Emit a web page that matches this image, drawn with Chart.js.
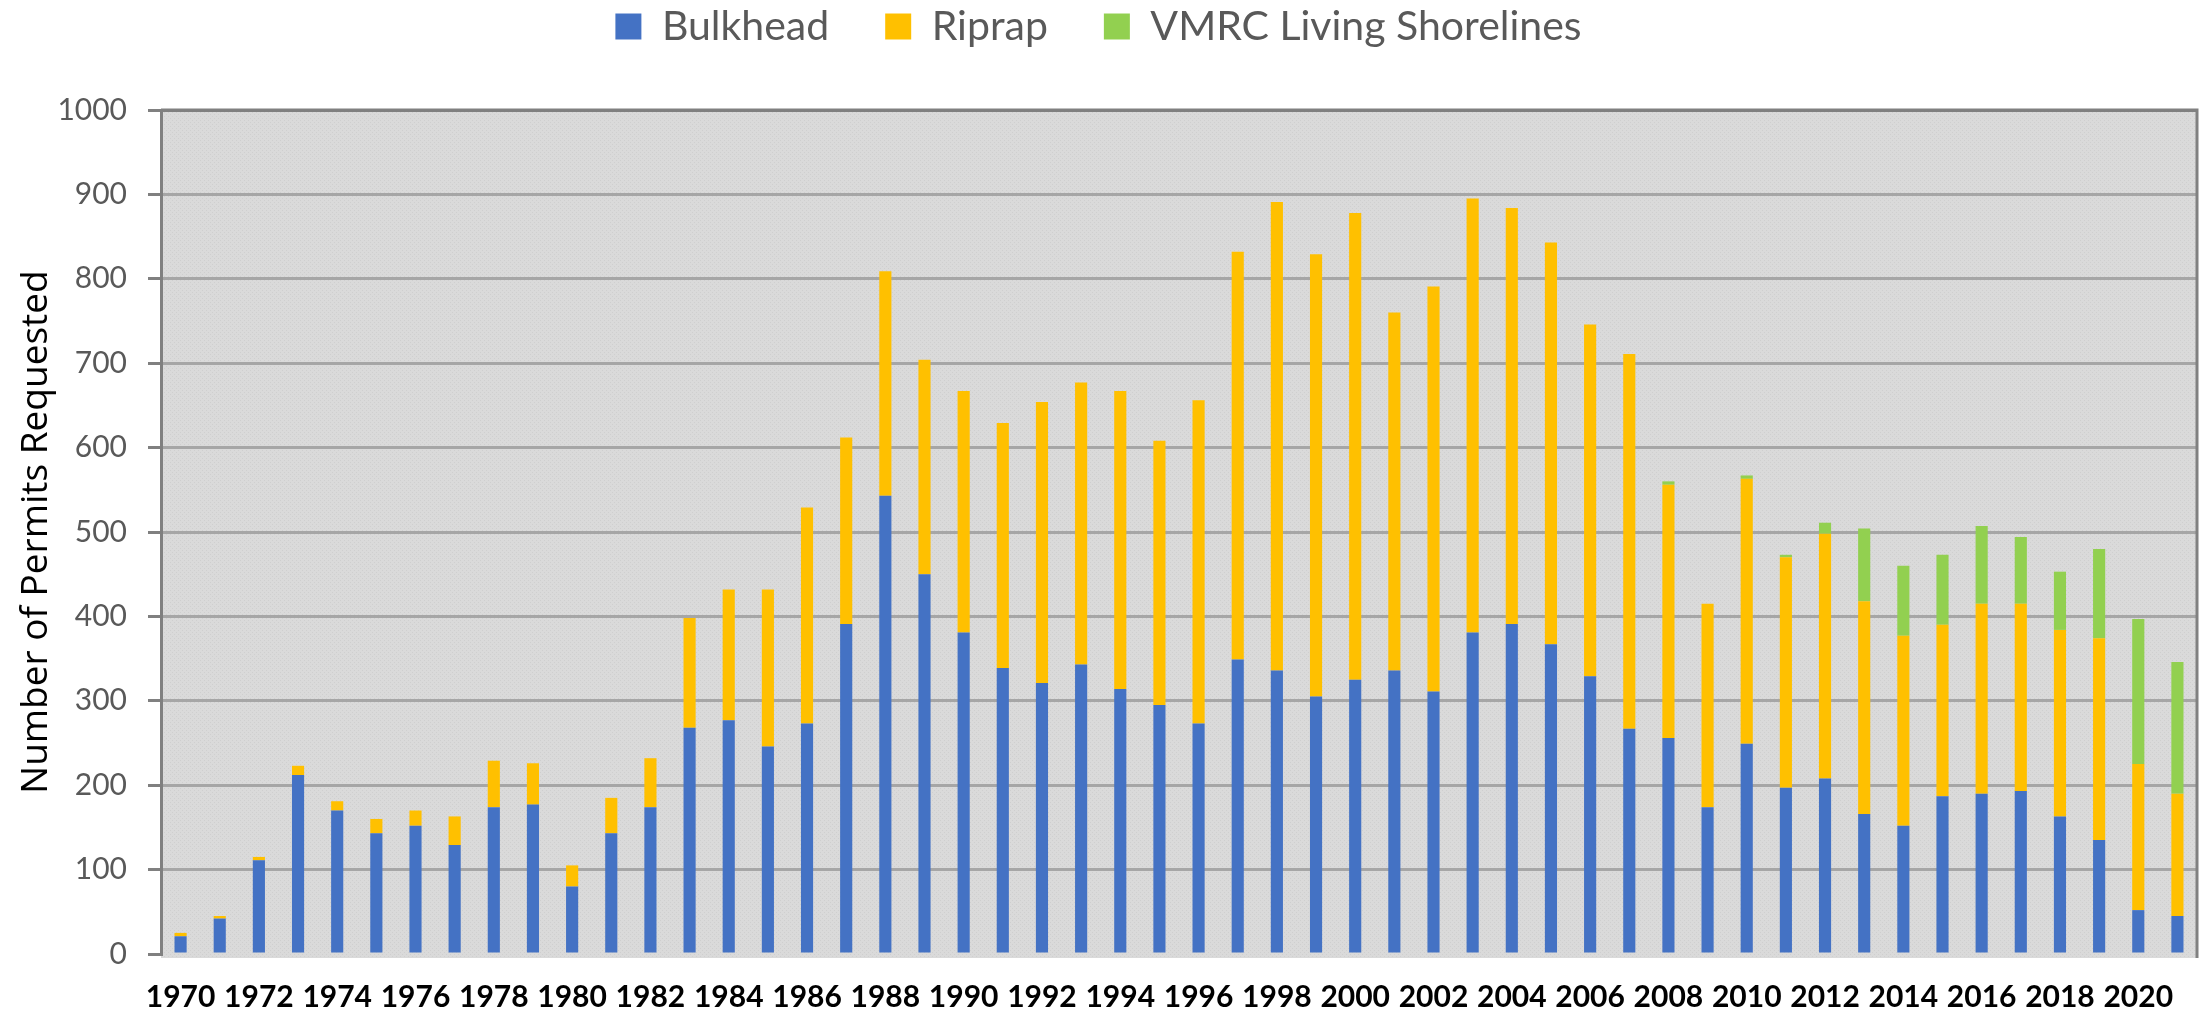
<!DOCTYPE html>
<html>
<head>
<meta charset="utf-8">
<script src="https://cdn.jsdelivr.net/npm/chart.js@4.4.1/dist/chart.umd.min.js"></script>
<style>
  html, body { margin: 0; padding: 0; background: #ffffff; }
  #wrap { width: 2208px; height: 1013px; position: relative; }
</style>
</head>
<body>
<div id="wrap"><canvas id="c" width="2208" height="1013"></canvas></div>
<script>
const years = [
  '1970','1971','1972','1973','1974','1975','1976','1977','1978','1979',
  '1980','1981','1982','1983','1984','1985','1986','1987','1988','1989',
  '1990','1991','1992','1993','1994','1995','1996','1997','1998','1999',
  '2000','2001','2002','2003','2004','2005','2006','2007','2008','2009',
  '2010','2011','2012','2013','2014','2015','2016','2017','2018','2019',
  '2020','2021'
];
const bulkhead = [
  21, 42, 111, 212, 170, 143, 152, 129, 174, 177,
  80, 143, 174, 268, 277, 246, 273, 391, 543, 450,
  381, 339, 321, 343, 314, 295, 273, 349, 336, 305,
  325, 336, 311, 381, 391, 367, 329, 267, 256, 174,
  249, 197, 208, 166, 152, 187, 190, 193, 163, 135,
  52, 45
];
const riprap = [
  4, 3, 4, 11, 11, 17, 18, 34, 55, 49,
  25, 42, 58, 130, 155, 186, 256, 221, 266, 254,
  286, 290, 333, 334, 353, 313, 383, 483, 555, 524,
  553, 424, 480, 514, 493, 476, 417, 444, 300, 241,
  314, 273, 290, 252, 225, 203, 225, 222, 221, 239,
  173, 145
];
const livingShorelines = [
  0, 0, 0, 0, 0, 0, 0, 0, 0, 0,
  0, 0, 0, 0, 0, 0, 0, 0, 0, 0,
  0, 0, 0, 0, 0, 0, 0, 0, 0, 0,
  0, 0, 0, 0, 0, 0, 0, 0, 4, 0,
  4, 3, 13, 86, 83, 83, 92, 79, 69, 106,
  172, 156
];
const seriesNames = ['Bulkhead', 'Riprap', 'VMRC Living Shorelines'];
const seriesColors = ['#4472C4', '#FFC000', '#92D050'];
const yTicks = { min: 0, max: 1000, step: 100 };
const yTitle = 'Number of Permits Requested';

// background pattern for plot area
function makePattern(ctx) {
  const p = document.createElement('canvas');
  p.width = 4; p.height = 4;
  const pc = p.getContext('2d');
  pc.fillStyle = '#dadada';
  pc.fillRect(0, 0, 4, 4);
  pc.fillStyle = '#cfcfcf';
  pc.fillRect(0, 0, 1, 1);
  pc.fillRect(2, 2, 1, 1);
  return ctx.createPattern(p, 'repeat');
}

const plotFrame = {
  id: 'plotFrame',
  beforeDraw(chart) {
    const { ctx, chartArea: a } = chart;
    ctx.save();
    ctx.fillStyle = makePattern(ctx);
    ctx.fillRect(a.left, a.top, a.right - a.left, a.bottom - a.top + 4);
    ctx.restore();
  },
  afterDraw(chart) {
    const { ctx, chartArea: a } = chart;
    ctx.save();
    ctx.strokeStyle = '#808080';
    ctx.lineWidth = 3;
    ctx.beginPath();
    ctx.moveTo(a.left, a.top);
    ctx.lineTo(a.right, a.top);
    ctx.lineTo(a.right, a.bottom + 4);
    ctx.stroke();
    ctx.restore();
  }
};

const legendHeight = {
  id: 'legendHeight',
  beforeInit(chart) {
    const orig = chart.legend.fit;
    chart.legend.fit = function () {
      orig.bind(chart.legend)();
      this.height = 160;
    };
  }
};

const datasets = [bulkhead, riprap, livingShorelines].map((d, i) => ({
  label: seriesNames[i],
  data: d,
  backgroundColor: seriesColors[i],
  borderWidth: 0,
  barPercentage: 0.31,
  categoryPercentage: 1.0,
  stack: 'permits'
}));

new Chart(document.getElementById('c'), {
  type: 'bar',
  data: { labels: years, datasets },
  plugins: [plotFrame, legendHeight],
  options: {
    responsive: false,
    animation: false,
    layout: { padding: { top: -50, left: 0, right: 11, bottom: 0 } },
    plugins: {
      legend: {
        position: 'top',
        labels: {
          font: { family: 'Lato', size: 41 },
          color: '#595959',
          boxWidth: 26,
          boxHeight: 26,
          padding: 56
        }
      },
      tooltip: { enabled: false }
    },
    scales: {
      x: {
        stacked: true,
        grid: { display: false, drawTicks: false },
        border: { display: false },
        ticks: {
          autoSkip: false,
          maxRotation: 0,
          minRotation: 0,
          padding: 25,
          color: '#000000',
          font: { family: 'Lato', size: 30, weight: 'bold' },
          callback: (v, i) => (i % 2 === 0 ? years[i] : '')
        },
        afterFit(scale) { scale.height = 59; }
      },
      y: {
        stacked: true,
        min: yTicks.min,
        max: yTicks.max,
        ticks: {
          stepSize: yTicks.step,
          padding: 21,
          color: '#595959',
          font: { family: 'Lato', size: 30 },
          callback: (v) => String(v)
        },
        grid: {
          color: (c) => (c.tick && c.tick.value === 0 ? 'rgba(0,0,0,0)' : (c.tick && c.tick.value === 1000 ? '#808080' : '#a6a6a6')),
          lineWidth: 3,
          tickLength: 13,
          tickColor: '#808080',
          tickWidth: 3
        },
        border: { display: true, color: '#808080', width: 3 },
        title: {
          display: true,
          text: yTitle,
          color: '#000000',
          font: { family: 'Open Sans', size: 37 },
          padding: { top: 14, bottom: 0 }
        },
        afterFit(scale) { scale.width = 161; }
      }
    }
  }
});
</script>
</body>
</html>
